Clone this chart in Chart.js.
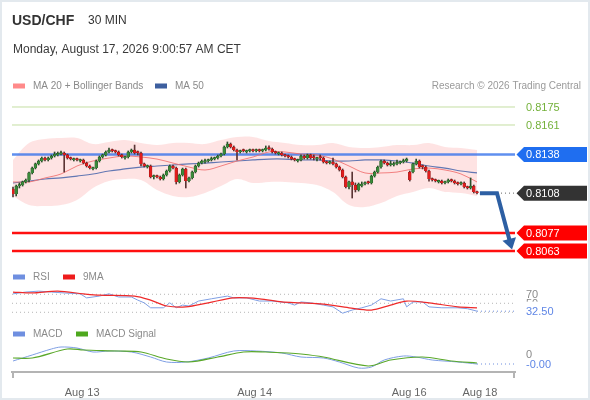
<!DOCTYPE html>
<html><head><meta charset="utf-8">
<script src="https://cdn.jsdelivr.net/npm/chart.js@4.4.1/dist/chart.umd.min.js"></script>
<style>html,body{margin:0;padding:0;background:#fff;}canvas{display:block;}</style>
</head><body>
<canvas id="c" width="590" height="400"></canvas>
<script>
// ---------- texts ----------
const titleText = 'USD/CHF';
const periodText = '30 MIN';
const dateText = 'Monday, August 17, 2026 9:00:57 AM CET';
const creditText = 'Research \u00A9 2026 Trading Central';

// ---------- x axis tick labels (candle index positions) ----------
const xTickLabels = ['Aug 13', 'Aug 14', 'Aug 16', 'Aug 18'];
const xTickIdx = [21.6, 75.5, 123.8, 145.9];

// ---------- 30-min candles (index 0..145) ----------
const candleOpen = [
0.81112,0.81073,0.81135,0.81143,0.81167,0.81182,0.81237,0.81275,0.81307,0.81330,
0.81353,0.81338,0.81353,0.81369,0.81377,0.81384,0.81392,0.81377,0.81353,0.81338,
0.81345,0.81330,0.81338,0.81314,0.81291,0.81268,0.81275,0.81330,0.81361,0.81377,
0.81400,0.81415,0.81408,0.81400,0.81377,0.81353,0.81361,0.81400,0.81415,0.81400,
0.81392,0.81307,0.81283,0.81291,0.81205,0.81213,0.81205,0.81190,0.81221,0.81252,
0.81291,0.81275,0.81167,0.81221,0.81268,0.81174,0.81198,0.81244,0.81291,0.81314,
0.81322,0.81330,0.81338,0.81345,0.81353,0.81369,0.81384,0.81439,0.81462,0.81439,
0.81415,0.81400,0.81415,0.81400,0.81408,0.81415,0.81408,0.81415,0.81408,0.81415,
0.81431,0.81423,0.81400,0.81384,0.81392,0.81377,0.81369,0.81361,0.81345,0.81330,
0.81338,0.81369,0.81353,0.81377,0.81361,0.81345,0.81361,0.81353,0.81322,0.81314,
0.81322,0.81307,0.81283,0.81260,0.81205,0.81128,0.81167,0.81143,0.81104,0.81135,
0.81151,0.81167,0.81159,0.81213,0.81244,0.81283,0.81330,0.81314,0.81299,0.81299,
0.81307,0.81314,0.81322,0.81330,0.81244,0.81244,0.81307,0.81330,0.81291,0.81283,
0.81252,0.81190,0.81182,0.81167,0.81174,0.81159,0.81167,0.81182,0.81174,0.81159,
0.81151,0.81159,0.81128,0.81120,0.81135,0.81089];
const candleHigh = [
0.81128,0.81143,0.81159,0.81174,0.81190,0.81244,0.81283,0.81314,0.81338,0.81361,
0.81361,0.81361,0.81377,0.81400,0.81400,0.81408,0.81400,0.81384,0.81361,0.81353,
0.81353,0.81345,0.81345,0.81322,0.81299,0.81283,0.81338,0.81369,0.81384,0.81408,
0.81431,0.81423,0.81415,0.81408,0.81384,0.81369,0.81408,0.81423,0.81454,0.81408,
0.81400,0.81314,0.81299,0.81299,0.81221,0.81221,0.81213,0.81229,0.81260,0.81299,
0.81299,0.81283,0.81229,0.81275,0.81275,0.81205,0.81252,0.81299,0.81322,0.81338,
0.81345,0.81345,0.81361,0.81361,0.81377,0.81392,0.81447,0.81478,0.81470,0.81447,
0.81423,0.81415,0.81423,0.81415,0.81423,0.81423,0.81423,0.81423,0.81423,0.81447,
0.81447,0.81431,0.81408,0.81400,0.81400,0.81384,0.81377,0.81369,0.81353,0.81345,
0.81377,0.81377,0.81384,0.81384,0.81377,0.81361,0.81377,0.81361,0.81330,0.81330,
0.81353,0.81314,0.81291,0.81268,0.81213,0.81174,0.81244,0.81159,0.81159,0.81167,
0.81167,0.81174,0.81221,0.81252,0.81291,0.81338,0.81338,0.81322,0.81330,0.81322,
0.81338,0.81330,0.81345,0.81353,0.81252,0.81314,0.81345,0.81338,0.81299,0.81291,
0.81260,0.81198,0.81190,0.81182,0.81182,0.81174,0.81190,0.81190,0.81182,0.81167,
0.81167,0.81167,0.81135,0.81198,0.81143,0.81096];
const candleLow = [
0.81050,0.81058,0.81120,0.81135,0.81159,0.81167,0.81229,0.81268,0.81299,0.81322,
0.81330,0.81330,0.81345,0.81361,0.81369,0.81377,0.81244,0.81345,0.81338,0.81330,
0.81330,0.81322,0.81307,0.81283,0.81268,0.81260,0.81268,0.81322,0.81353,0.81369,
0.81392,0.81400,0.81392,0.81369,0.81353,0.81345,0.81353,0.81392,0.81384,0.81377,
0.81291,0.81283,0.81275,0.81198,0.81190,0.81198,0.81182,0.81182,0.81213,0.81244,
0.81268,0.81151,0.81159,0.81213,0.81120,0.81167,0.81190,0.81237,0.81283,0.81307,
0.81314,0.81322,0.81330,0.81338,0.81345,0.81361,0.81377,0.81431,0.81431,0.81408,
0.81338,0.81392,0.81400,0.81392,0.81400,0.81400,0.81400,0.81400,0.81400,0.81408,
0.81415,0.81392,0.81384,0.81377,0.81369,0.81361,0.81353,0.81338,0.81330,0.81322,
0.81330,0.81345,0.81345,0.81345,0.81338,0.81330,0.81338,0.81314,0.81307,0.81307,
0.81299,0.81275,0.81252,0.81198,0.81120,0.81112,0.81042,0.81089,0.81096,0.81128,
0.81143,0.81151,0.81151,0.81205,0.81237,0.81275,0.81307,0.81291,0.81291,0.81291,
0.81299,0.81307,0.81314,0.81322,0.81174,0.81237,0.81299,0.81275,0.81268,0.81244,
0.81174,0.81174,0.81167,0.81159,0.81151,0.81151,0.81159,0.81167,0.81151,0.81143,
0.81143,0.81120,0.81112,0.81112,0.81081,0.81073];
const candleClose = [
0.81073,0.81135,0.81143,0.81167,0.81182,0.81237,0.81275,0.81307,0.81330,0.81353,
0.81338,0.81353,0.81369,0.81384,0.81384,0.81392,0.81377,0.81353,0.81345,0.81345,
0.81338,0.81338,0.81314,0.81291,0.81275,0.81275,0.81330,0.81361,0.81377,0.81400,
0.81415,0.81408,0.81400,0.81377,0.81361,0.81361,0.81400,0.81415,0.81392,0.81392,
0.81307,0.81291,0.81291,0.81205,0.81213,0.81205,0.81190,0.81221,0.81252,0.81291,
0.81275,0.81167,0.81221,0.81268,0.81174,0.81198,0.81244,0.81291,0.81314,0.81330,
0.81330,0.81338,0.81345,0.81353,0.81369,0.81384,0.81439,0.81462,0.81439,0.81415,
0.81400,0.81408,0.81408,0.81408,0.81415,0.81408,0.81415,0.81408,0.81415,0.81431,
0.81423,0.81400,0.81392,0.81392,0.81377,0.81369,0.81361,0.81345,0.81338,0.81338,
0.81369,0.81353,0.81377,0.81353,0.81353,0.81353,0.81353,0.81322,0.81314,0.81322,
0.81307,0.81283,0.81260,0.81205,0.81128,0.81167,0.81143,0.81104,0.81151,0.81151,
0.81159,0.81159,0.81213,0.81244,0.81283,0.81330,0.81314,0.81299,0.81307,0.81307,
0.81314,0.81322,0.81330,0.81345,0.81182,0.81307,0.81330,0.81283,0.81283,0.81252,
0.81190,0.81182,0.81174,0.81174,0.81159,0.81167,0.81182,0.81174,0.81159,0.81151,
0.81159,0.81128,0.81120,0.81135,0.81089,0.81081];

// ---------- indicators (sampled at candle indexes) ----------
const bandIdx = [0,5,10,15,20,25,30,35,40,45,50,55,60,65,70,75,80,85,90,95,100,105,110,115,120,125,130,135,140,145];
const bandUpper = [0.81338,0.81470,0.81501,0.81509,0.81509,0.81462,0.81478,0.81493,0.81470,0.81454,0.81470,0.81470,0.81462,0.81493,0.81517,0.81517,0.81485,0.81470,0.81454,0.81454,0.81470,0.81439,0.81431,0.81439,0.81454,0.81454,0.81470,0.81439,0.81431,0.81415];
const bandLower = [0.81058,0.80987,0.80980,0.80987,0.81026,0.81120,0.81174,0.81190,0.81182,0.81104,0.81058,0.81050,0.81081,0.81135,0.81190,0.81159,0.81167,0.81167,0.81159,0.81143,0.81089,0.80987,0.80972,0.81003,0.81058,0.81089,0.81120,0.81089,0.81081,0.81058];
const ma20 = [0.81167,0.81167,0.81198,0.81229,0.81291,0.81330,0.81353,0.81369,0.81361,0.81345,0.81314,0.81283,0.81260,0.81291,0.81330,0.81361,0.81400,0.81400,0.81384,0.81377,0.81345,0.81291,0.81237,0.81237,0.81244,0.81268,0.81275,0.81260,0.81229,0.81167];
const ma50 = [0.81159,0.81174,0.81190,0.81198,0.81213,0.81229,0.81252,0.81268,0.81283,0.81291,0.81299,0.81307,0.81314,0.81322,0.81330,0.81338,0.81345,0.81345,0.81338,0.81338,0.81330,0.81330,0.81338,0.81338,0.81330,0.81314,0.81291,0.81275,0.81252,0.81237];

// ---------- key levels ----------
const resistanceLevels = [0.8175, 0.8161];
const pivotLevel = 0.8138;
const lastPrice = 0.8108;
const supportLevels = [0.8077, 0.8063];
const arrowIdx = [145.9, 151.25, 155.15];
const arrowPrice = [0.8108, 0.8108, 0.80716];

// ---------- RSI ----------
const rsiLevels = [70, 50, 30];
const rsiIdx = [0,4,8,12,16,21,23,27,30,33,37,39,41,43,47,49,51,53,55,58,62,67,69,73,77,81,86,88,90,93,97,100,103,106,109,112,115,118,122,123,125,128,130,134,139,142,145];
const rsiVal = [71,75,77,75,73,71,62,66,71,64,64,57,51,40,40,51,40,46,44,55,60,66,62,62,55,55,51,46,53,51,46,42,28,35,40,46,60,55,60,42,53,53,42,40,40,38,32.5];
const rsiMaIdx = [0,6,14,22,27,38,43,48,54,61,69,77,84,90,97,105,112,118,123,130,139,145];
const rsiMaVal = [75,73,77,71,68,66,57,44,42,51,62,60,53,51,48,40,35,46,55,51,42,40];

// ---------- MACD ----------
const macdIdx = [0,6,12,15,20,25,30,37,43,48,54,61,69,76,84,90,97,102,108,112,116,122,126,131,139,145];
const macdVal = [-0.00005,0.00001,0.00007,0.00009,0.00008,0.00004,0.00005,0.00004,-0.00001,-0.00006,-0.00006,-0.00002,0.00005,0.00005,0.00003,-0.00001,-0.00002,-0.00006,-0.00012,-0.00011,-0.00004,0,-0.00001,-0.00004,-0.00006,-0.00008];
const signalIdx = [0,6,17,22,33,40,48,55,64,72,79,86,90,97,111,118,128,137,145];
const signalVal = [-0.00002,-0.00002,0.00007,0.00006,0.00005,0.00004,-0.00003,-0.00006,-0.00001,0.00004,0.00004,0.00003,0.00002,-0.00001,-0.0001,-0.00004,-0.00001,-0.00005,-0.00007];

// ================= build chart =================
const FONT = '"Liberation Sans", Arial, Helvetica, sans-serif';
const X_MIN = -0.3125, X_MAX = 156.875;
const UP = '#3a8a3a', DOWN = '#e21d1d';

const pts = (xs, ys) => xs.map((x, i) => ({ x: x, y: ys[i] }));
const hLine = (v, axis, color, width, dash, order, from) => ({
  type: 'line', yAxisID: axis, data: [{ x: from === undefined ? X_MIN : from, y: v }, { x: X_MAX, y: v }],
  borderColor: color, borderWidth: width, borderDash: dash || [], pointRadius: 0, fill: false, order: order, tension: 0
});
const idx = candleClose.map((_, i) => i);
const isUp = idx.map(i => candleClose[i] >= candleOpen[i]);

const datasets = [
  { type: 'line', yAxisID: 'y', data: pts(bandIdx, bandUpper), borderWidth: 0, borderColor: 'rgba(0,0,0,0)', backgroundColor: 'rgba(252,140,140,0.24)', fill: '+1', pointRadius: 0, tension: 0.35, order: 10 },
  { type: 'line', yAxisID: 'y', data: pts(bandIdx, bandLower), borderWidth: 0, borderColor: 'rgba(0,0,0,0)', fill: false, pointRadius: 0, tension: 0.35, order: 10 },
  { type: 'line', yAxisID: 'y', data: pts(bandIdx, ma20), borderColor: 'rgba(240,110,110,0.85)', borderWidth: 1, fill: false, pointRadius: 0, tension: 0.35, order: 6 },
  { type: 'line', yAxisID: 'y', data: pts(bandIdx, ma50), borderColor: 'rgba(70,100,170,0.85)', borderWidth: 1.2, fill: false, pointRadius: 0, tension: 0.35, order: 6 },
  hLine(resistanceLevels[0], 'y', '#c4dea2', 1, null, 7),
  hLine(resistanceLevels[1], 'y', '#c4dea2', 1, null, 7),
  hLine(pivotLevel, 'y', 'rgba(55,115,235,0.8)', 2.5, null, 7),
  hLine(supportLevels[0], 'y', '#ff1010', 2.5, null, 7),
  hLine(supportLevels[1], 'y', '#ff1010', 2.5, null, 7),
  hLine(lastPrice, 'y', '#666', 1, [1, 3], 7, arrowIdx[1]),
  { type: 'line', yAxisID: 'y', data: pts(arrowIdx, arrowPrice), borderColor: '#2d5fa3', borderWidth: 4, fill: false, pointRadius: 0, tension: 0, order: 0, borderCapStyle: 'butt', borderJoinStyle: 'miter' },
  { type: 'bar', yAxisID: 'y', grouped: false, barThickness: 1, data: idx.map(i => ({ x: i, y: [candleLow[i], candleHigh[i]] })), backgroundColor: idx.map(i => isUp[i] ? '#2c4f2c' : '#5a3434'), borderWidth: 0, order: 2 },
  { type: 'bar', yAxisID: 'y', grouped: false, barThickness: 2.8, minBarLength: 1.5, data: idx.map(i => ({ x: i, y: [candleOpen[i], candleClose[i]] })), backgroundColor: idx.map(i => isUp[i] ? UP : DOWN), borderColor: idx.map(i => isUp[i] ? '#1c4f1c' : '#8e1010'), borderWidth: 0.5, order: 1 },
  hLine(rsiLevels[0], 'yR', '#b5b5b5', 1, [1, 3], 7),
  hLine(rsiLevels[1], 'yR', '#b5b5b5', 1, [1, 3], 7),
  hLine(rsiLevels[2], 'yR', '#b5b5b5', 1, [1, 3], 7),
  { type: 'line', yAxisID: 'yR', data: pts(rsiIdx, rsiVal), borderColor: '#7f9fe4', borderWidth: 1, fill: false, pointRadius: 0, tension: 0, order: 6 },
  { type: 'line', yAxisID: 'yR', data: pts(rsiMaIdx, rsiMaVal), borderColor: '#ee2a2a', borderWidth: 1.2, fill: false, pointRadius: 0, tension: 0.3, order: 5 },
  hLine(rsiVal[rsiVal.length - 1], 'yR', '#6f8fe0', 1, [1, 3], 7, rsiIdx[rsiIdx.length - 1]),
  { type: 'line', yAxisID: 'yM', data: pts(macdIdx, macdVal), borderColor: '#7f9fe4', borderWidth: 1, fill: false, pointRadius: 0, tension: 0.3, order: 6 },
  { type: 'line', yAxisID: 'yM', data: pts(signalIdx, signalVal), borderColor: '#5aa82a', borderWidth: 1.2, fill: false, pointRadius: 0, tension: 0.3, order: 5 },
  hLine(macdVal[macdVal.length - 1], 'yM', '#6f8fe0', 1, [1, 3], 7, macdIdx[macdIdx.length - 1])
];
const ARROW_DS = 10;

const overlay = {
  id: 'overlay',
  afterDraw(chart) {
    const c = chart.ctx, a = chart.chartArea;
    const sy = chart.scales.y, sr = chart.scales.yR, sm = chart.scales.yM;
    c.save();
    // frame
    c.strokeStyle = '#e3e9ee'; c.lineWidth = 2; c.strokeRect(1, 1, 588, 398);
    // titles
    c.textAlign = 'left'; c.textBaseline = 'alphabetic';
    c.fillStyle = '#333'; c.font = 'bold 14px ' + FONT; c.fillText(titleText, 12, 25);
    c.font = '12px ' + FONT; c.fillText(periodText, 88, 24);
    c.fillStyle = '#3a3a3a'; c.font = '12px ' + FONT; c.fillText(dateText, 13, 53);
    // legends
    const leg = (x, y, color, text) => {
      c.fillStyle = color; c.fillRect(x, y - 2.5, 12, 5);
      c.fillStyle = '#8a8a8a'; c.font = '10px ' + FONT; c.textBaseline = 'middle'; c.fillText(text, x + 20, y + 0.5);
    };
    leg(13, 86, '#ff8a8a', 'MA 20 + Bollinger Bands');
    leg(155, 86, '#3d5f9f', 'MA 50');
    c.textAlign = 'right'; c.fillStyle = '#9a9a9a'; c.font = '10px ' + FONT; c.fillText(creditText, 581, 86.5);
    c.textAlign = 'left';
    leg(13, 277, '#6f8fe0', 'RSI');
    leg(63, 277, '#ee1c1c', '9MA');
    leg(13, 334, '#6f8fe0', 'MACD');
    leg(76, 334, '#4ea81e', 'MACD Signal');
    // arrow head
    const m = chart.getDatasetMeta(ARROW_DS).data;
    if (m.length > 1) {
      const p1 = m[m.length - 2], p2 = m[m.length - 1];
      let dx = p2.x - p1.x, dy = p2.y - p1.y; const L = Math.hypot(dx, dy); dx /= L; dy /= L;
      const nx = -dy, ny = dx;
      c.fillStyle = '#2d5fa3'; c.beginPath();
      c.moveTo(p2.x + dx * 10, p2.y + dy * 10);
      c.lineTo(p2.x - dx * 1 + nx * 7, p2.y - dy * 1 + ny * 7);
      c.lineTo(p2.x - dx * 1 - nx * 7, p2.y - dy * 1 - ny * 7);
      c.closePath(); c.fill();
    }
    // right-side price labels
    c.textBaseline = 'middle'; c.font = '11px ' + FONT;
    resistanceLevels.forEach(v => { c.fillStyle = '#74b13a'; c.fillText(v.toFixed(4), 526, sy.getPixelForValue(v) + 0.5); });
    const tag = (v, color, txt) => {
      const y = sy.getPixelForValue(v);
      c.fillStyle = color; c.beginPath();
      c.moveTo(516.5, y); c.lineTo(524, y - 7.5); c.lineTo(587, y - 7.5); c.lineTo(587, y + 7.5); c.lineTo(524, y + 7.5); c.closePath(); c.fill();
      c.fillStyle = '#fff'; c.font = '11px ' + FONT; c.fillText(txt, 526, y + 0.5);
    };
    tag(pivotLevel, '#1f6ef0', pivotLevel.toFixed(4));
    tag(lastPrice, '#333333', lastPrice.toFixed(4));
    supportLevels.forEach(v => tag(v, '#ff0000', v.toFixed(4)));
    // RSI labels
    c.font = '11px ' + FONT;
    rsiLevels.forEach(v => { c.fillStyle = '#8a8a8a'; c.fillText(String(v), 526, sr.getPixelForValue(v) + 0.5); });
    const curTag = (scale, v, txt, up) => {
      const y = scale.getPixelForValue(v);
      c.fillStyle = '#fff'; c.fillRect(523, y - up, 50, up + 8);
      c.fillStyle = '#5f86e6'; c.fillText(txt, 526, y + 0.5);
    };
    curTag(sr, rsiVal[rsiVal.length - 1], rsiVal[rsiVal.length - 1].toFixed(2), 9.5);
    c.fillStyle = '#8a8a8a'; c.fillText('0', 526, sm.getPixelForValue(0) - 1);
    curTag(sm, macdVal[macdVal.length - 1], macdVal[macdVal.length - 1].toFixed(2), 5.5);
    // x-axis end ticks
    c.strokeStyle = '#b4b4b4'; c.lineWidth = 2; c.beginPath();
    c.moveTo(a.left + 1, a.bottom); c.lineTo(a.left + 1, a.bottom + 6);
    c.moveTo(a.right - 1, a.bottom); c.lineTo(a.right - 1, a.bottom + 6);
    c.stroke();
    c.restore();
  }
};

new Chart(document.getElementById('c'), {
  type: 'line',
  data: { datasets: datasets },
  options: {
    responsive: false, animation: false, events: [],
    layout: { padding: { left: 12, right: 75, top: 95, bottom: 0 } },
    plugins: { legend: { display: false }, tooltip: { enabled: false } },
    scales: {
      x: {
        type: 'linear', min: X_MIN, max: X_MAX, offset: false,
        grid: { display: false }, border: { display: true, color: '#b4b4b4', width: 2 },
        afterBuildTicks: s => { s.ticks = xTickIdx.map(v => ({ value: v })); },
        afterFit: s => { s.height = 28; },
        ticks: { autoSkip: false, maxRotation: 0, padding: 6, color: '#666', font: { family: FONT, size: 11 },
          callback: (v, i) => xTickLabels[i] }
      },
      y: { display: false, min: 0.796889, max: 0.818433 },
      yR: { display: false, min: -102.7, max: 512.9 },
      yM: { display: false, min: -0.00016, max: 0.00261 }
    }
  },
  plugins: [overlay]
});
</script>
</body></html>
